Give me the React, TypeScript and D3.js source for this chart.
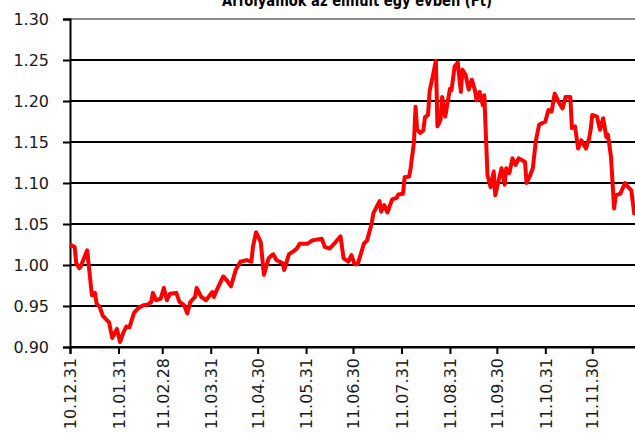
import React, { useRef, useEffect } from 'react';
import { select, scaleLinear, scaleTime, line, timeParse, axisLeft, axisBottom } from 'd3';

const title = 'Árfolyamok az elmúlt egy évben (Ft)';

const tickLabels = [
  '10.12.31', '11.01.31', '11.02.28', '11.03.31', '11.04.30', '11.05.31',
  '11.06.30', '11.07.31', '11.08.31', '11.09.30', '11.10.31', '11.11.30'
];
const yTicks = [0.9, 0.95, 1.0, 1.05, 1.1, 1.15, 1.2, 1.25, 1.3];
const domainEnd = '11.12.28';

// daily closes (yy.mm.dd)
const dates = [
  '10.12.31', '11.01.03', '11.01.04', '11.01.06', '11.01.07', '11.01.11', '11.01.14', '11.01.16',
  '11.01.17', '11.01.19', '11.01.21', '11.01.23', '11.01.25', '11.01.27', '11.01.30',
  '11.02.01', '11.02.03', '11.02.05', '11.02.07', '11.02.10', '11.02.13', '11.02.16', '11.02.19',
  '11.02.21', '11.02.22', '11.02.24', '11.02.27',
  '11.03.01', '11.03.03', '11.03.05', '11.03.09', '11.03.11', '11.03.14', '11.03.16', '11.03.18',
  '11.03.21', '11.03.22', '11.03.25', '11.03.28',
  '11.04.01', '11.04.02', '11.04.04', '11.04.08', '11.04.10', '11.04.13', '11.04.16', '11.04.19',
  '11.04.23', '11.04.26', '11.04.27', '11.04.29',
  '11.05.02', '11.05.03', '11.05.04', '11.05.07', '11.05.09', '11.05.10', '11.05.12', '11.05.16',
  '11.05.17', '11.05.20', '11.05.23', '11.05.25', '11.05.27',
  '11.06.01', '11.06.04', '11.06.10', '11.06.12', '11.06.15', '11.06.18', '11.06.22', '11.06.24',
  '11.06.27', '11.06.29',
  '11.07.01', '11.07.03', '11.07.07', '11.07.09', '11.07.12', '11.07.13', '11.07.17', '11.07.18',
  '11.07.20', '11.07.22', '11.07.25', '11.07.28', '11.07.29',
  '11.08.01', '11.08.02', '11.08.05', '11.08.06', '11.08.08', '11.08.09', '11.08.10', '11.08.12',
  '11.08.14', '11.08.15', '11.08.17', '11.08.18', '11.08.20', '11.08.22', '11.08.23', '11.08.25',
  '11.08.26', '11.08.28', '11.08.31',
  '11.09.01', '11.09.03', '11.09.05', '11.09.07', '11.09.08', '11.09.10', '11.09.12', '11.09.14',
  '11.09.16', '11.09.17', '11.09.19', '11.09.21', '11.09.22', '11.09.24', '11.09.26', '11.09.28',
  '11.09.29',
  '11.10.01', '11.10.03', '11.10.05', '11.10.06', '11.10.08', '11.10.10', '11.10.12', '11.10.14',
  '11.10.18', '11.10.19', '11.10.21', '11.10.23', '11.10.25', '11.10.27', '11.10.31',
  '11.11.02', '11.11.04', '11.11.06', '11.11.09', '11.11.11', '11.11.13', '11.11.16', '11.11.17',
  '11.11.19', '11.11.21', '11.11.23', '11.11.26', '11.11.28', '11.11.29', '11.11.30',
  '11.12.03', '11.12.05', '11.12.07', '11.12.09', '11.12.10', '11.12.12', '11.12.14', '11.12.15',
  '11.12.18', '11.12.21', '11.12.23', '11.12.25', '11.12.27'
];

const values = [
  1.025, 1.022, 1.002, 0.996, 0.999, 1.018, 0.963, 0.966,
  0.953, 0.949, 0.938, 0.934, 0.930, 0.911, 0.922,
  0.906, 0.917, 0.925, 0.924, 0.942, 0.948, 0.951, 0.952,
  0.955, 0.966, 0.957, 0.959,
  0.972, 0.957, 0.965, 0.966, 0.955, 0.951, 0.941, 0.955,
  0.961, 0.972, 0.961, 0.957,
  0.967, 0.961, 0.970, 0.986, 0.982, 0.974, 0.994, 1.004,
  1.006, 1.004, 1.022, 1.040,
  1.028, 1.008, 0.988, 1.008, 1.012, 1.013, 1.006, 1.002,
  0.994, 1.013, 1.017, 1.020, 1.026,
  1.026, 1.030, 1.032, 1.022, 1.020, 1.026, 1.035, 1.008,
  1.004, 1.012,
  1.001, 1.001, 1.026, 1.030, 1.051, 1.063, 1.078, 1.065,
  1.073, 1.064, 1.080, 1.082, 1.086,
  1.087, 1.107, 1.108, 1.120, 1.150, 1.193, 1.165, 1.161,
  1.164, 1.180, 1.183, 1.212, 1.230, 1.249, 1.169, 1.177,
  1.205, 1.181, 1.215,
  1.213, 1.242, 1.247, 1.211, 1.238, 1.232, 1.214, 1.226,
  1.213, 1.201, 1.211, 1.195, 1.207, 1.110, 1.095, 1.114,
  1.085,
  1.102, 1.118, 1.098, 1.118, 1.112, 1.130, 1.122, 1.130,
  1.126, 1.100, 1.108, 1.118, 1.152, 1.171, 1.175,
  1.189, 1.187, 1.209, 1.197, 1.191, 1.205, 1.205, 1.167,
  1.169, 1.142, 1.152, 1.142, 1.154, 1.165, 1.183,
  1.181, 1.165, 1.179, 1.156, 1.159, 1.132, 1.069, 1.085,
  1.087, 1.100, 1.095, 1.091, 1.061
];

const W = 635;
const H = 435;
const font = '"DejaVu Sans", Verdana, sans-serif';

const App = () => {
  const svgRef = useRef(null);

  useEffect(() => {
    const svg = select(svgRef.current);
    svg.selectAll('*').remove();

    const parse = timeParse('%y.%m.%d');
    const tickDates = tickLabels.map(d => parse(d));

    const x = scaleTime()
      .domain([parse(tickLabels[0]), parse(domainEnd)])
      .range([70, 636]);
    const y = scaleLinear().domain([0.9, 1.3]).range([347, 19]);

    // gridlines
    svg
      .append('g')
      .selectAll('line')
      .data(yTicks)
      .join('line')
      .attr('x1', 70)
      .attr('x2', W)
      .attr('y1', d => y(d))
      .attr('y2', d => y(d))
      .attr('stroke', d => (d === 1.3 ? '#8c8c8c' : '#000'))
      .attr('stroke-width', 2);

    // y axis
    const yAxis = svg
      .append('g')
      .attr('transform', 'translate(70,0)')
      .call(axisLeft(y).tickValues(yTicks).tickFormat(d => d.toFixed(2)).tickSize(7).tickPadding(14));
    yAxis.select('.domain').attr('stroke', '#000').attr('stroke-width', 2);
    yAxis.selectAll('.tick line').attr('stroke', '#000').attr('stroke-width', 2);
    yAxis
      .selectAll('.tick text')
      .attr('font-family', font)
      .attr('font-size', 16)
      .attr('fill', '#1a1a1a');

    // x axis
    const xAxis = svg
      .append('g')
      .attr('transform', `translate(0,${y(0.9)})`)
      .call(axisBottom(x).tickValues(tickDates).tickFormat((d, i) => tickLabels[i]).tickSize(7));
    xAxis.select('.domain').attr('stroke', '#000').attr('stroke-width', 2);
    xAxis.selectAll('.tick line').attr('stroke', '#000').attr('stroke-width', 2);
    xAxis
      .selectAll('.tick text')
      .attr('font-family', font)
      .attr('font-size', 16)
      .attr('fill', '#1a1a1a')
      .attr('text-anchor', 'end')
      .attr('transform', 'rotate(-90)')
      .attr('x', -11)
      .attr('y', 0)
      .attr('dy', '0.36em');

    // the series
    const lineGen = line()
      .x((d, i) => x(parse(dates[i])))
      .y(d => y(d));
    svg
      .append('path')
      .datum(values)
      .attr('d', lineGen)
      .attr('fill', 'none')
      .attr('stroke', '#ff0000')
      .attr('stroke-width', 4)
      .attr('stroke-linejoin', 'round');

    // title, cut off at the top edge like in the source
    svg
      .append('text')
      .attr('x', 357)
      .attr('y', 6)
      .attr('text-anchor', 'middle')
      .attr('font-family', font)
      .attr('font-weight', 'bold')
      .attr('font-size', 16)
      .attr('textLength', 270)
      .attr('lengthAdjust', 'spacingAndGlyphs')
      .text(title);
  }, []);

  return (
    <svg
      ref={svgRef}
      width={W}
      height={H}
      style={{ position: 'absolute', left: 0, top: 0, background: '#fff' }}
    />
  );
};

export default App;
